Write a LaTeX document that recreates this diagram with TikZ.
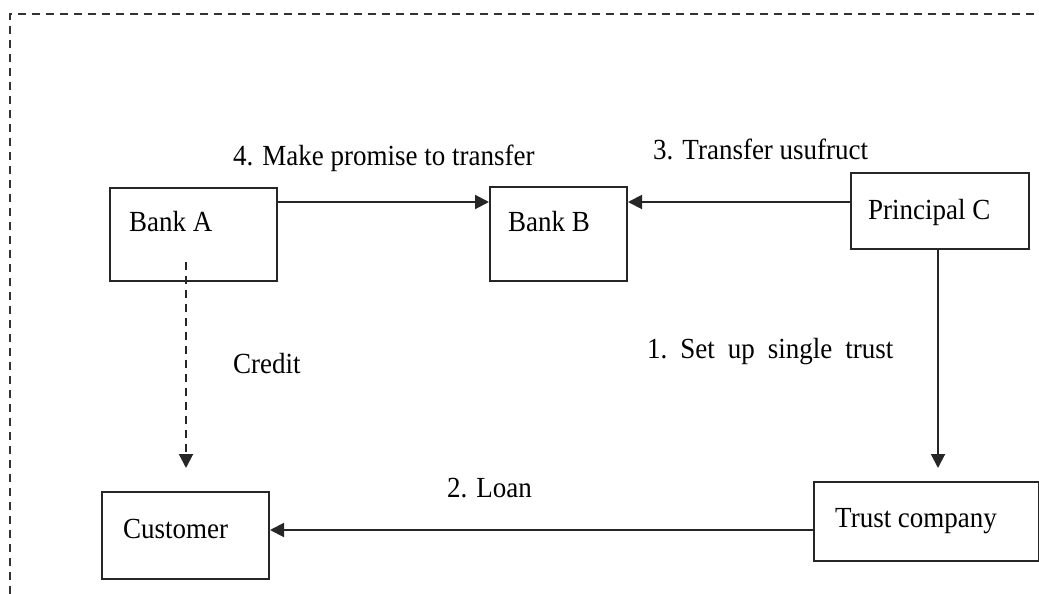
\documentclass[tikz,border=0pt]{standalone}
\usepackage{fontspec}
\setmainfont{Liberation Serif}
\usetikzlibrary{arrows.meta,calc}
\newcommand{\tx}[1]{\scalebox{1}[1.08]{#1}}
\begin{document}
\begin{tikzpicture}[x=1pt,y=-1pt,
  box/.style={draw=black!85, line width=2pt, rectangle, inner sep=0pt, anchor=north west},
  lbl/.style={anchor=base west, inner sep=0pt, font=\fontsize{27}{30}\selectfont, text=black},
  arr/.style={draw=black!85, line width=2pt, -{Triangle[length=14pt,width=14pt]}},
  dsh/.style={dash pattern=on 8pt off 6pt}]
\useasboundingbox (0,0) rectangle (1039,594);
% outer dashed frame (only top and left visible)
\draw[black!80, line width=2pt, dsh] (10,594) -- (10,14) -- (1039,14);

% boxes
\node[box, minimum width=167pt, minimum height=93pt] (bankA) at (109,187) {};
\node[box, minimum width=137pt, minimum height=94pt] (bankB) at (489,186) {};
\node[box, minimum width=178pt, minimum height=76pt] (principal) at (850,172) {};
\node[box, minimum width=225pt, minimum height=79pt] (trust) at (813,481) {};
\node[box, minimum width=167pt, minimum height=87pt] (customer) at (101,491) {};

% box texts
\node[lbl] (tA) at (129,231) {\tx{Bank A}};
\node[lbl] (tB) at (508,231) {\tx{Bank B}};
\node[lbl] (tC) at (868,219) {\tx{Principal C}};
\node[lbl] (tT) at (835,527) {\tx{Trust company}};
\node[lbl] (tCu) at (123,538) {\tx{Customer}};

% connector labels
\node[lbl] (l4) at (233,165) {\tx{4. Make promise to transfer}};
\node[lbl] (l3) at (653,159) {\tx{3. Transfer usufruct}};
\node[lbl] (l1) at (647,358) {\tx{1.\hspace{13pt}Set\hspace{13pt}up\hspace{13pt}single\hspace{13pt}trust}};
\node[lbl] (l2) at (447,497) {\tx{2. Loan}};
\node[lbl] (lc) at (233,373) {\tx{Credit}};

% connectors
\draw[arr] ($(bankA.north east)+(0,15)$) -- ($(bankB.north west)+(0,16)$);
\draw[arr] ($(principal.north west)+(0,30)$) -- ($(bankB.north east)+(0,16)$);
\draw[arr, shorten >=13pt] ($(principal.south west)+(88,0)$) -- ($(trust.north west)+(125,0)$);
\draw[arr] ($(trust.north west)+(0,49)$) -- ($(customer.north east)+(0,39)$);
\coordinate (cs) at ($(bankA.north west)+(77,75)$);
\draw[arr, dsh, shorten >=23pt] (cs) -- ($(customer.north west)+(85,0)$);
\end{tikzpicture}
\end{document}
